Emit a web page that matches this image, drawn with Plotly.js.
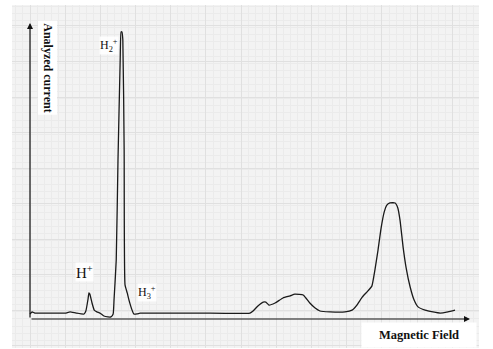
<!DOCTYPE html>
<html>
<head>
<meta charset="utf-8">
<script src="https://cdn.plot.ly/plotly-3.0.1.min.js"></script>
<style>html,body{margin:0;padding:0;background:#fff;}#chart{width:493px;height:349px;}</style>
</head>
<body>
<div id="chart"></div>
<script>
// Magnetic field (arbitrary units, 0 = origin, 100 = axis arrow)
const field = [0,0.5,1.1,4.5,8.0,9.1,10.5,12.3,12.7,13.2,13.4,13.6,14.1,14.6,15.2,15.9,16.8,17.7,18.4,18.9,19.1,19.6,20.0,20.5,20.7,20.9,21.1,21.4,21.6,22.1,22.5,23.2,23.6,24.3,25.0,25.7,38.6,50.0,50.7,51.8,53.0,53.6,54.3,55.7,57.5,59.1,60.2,62.1,62.7,63.6,64.8,65.9,68.2,71.6,73.2,74.3,75.5,76.8,77.7,78.4,79.1,79.8,80.5,81.1,81.8,83.0,83.6,84.1,84.8,85.5,86.4,87.3,88.2,89.8,91.6,93.2,95.0,96.6];
// Analyzed current (arbitrary units, 0 = axis, 100 = axis arrow)
const current = [1.7,2.4,2.0,2.0,2.0,2.4,2.0,1.7,2.7,6.8,8.8,8.4,5.4,3.0,2.4,2.0,1.0,0.7,0.7,1.7,6.4,19.9,53.7,87.5,97.0,97.0,94.3,57.1,11.5,8.8,6.4,3.0,1.7,1.7,2.0,2.0,2.0,2.0,2.7,4.4,5.7,5.7,4.7,5.4,7.1,7.8,8.4,8.1,7.1,5.4,3.7,2.7,2.4,2.4,3.0,4.7,7.4,9.5,11.1,16.6,23.3,30.7,36.1,38.5,39.2,39.2,37.5,33.4,24.3,17.2,10.8,6.4,4.1,3.0,2.4,2.0,2.4,3.0];

const peakLabels = [
  {text: 'H<sub>2</sub><sup>+</sup>', x: 18.0, y: 92.3, size: 12},
  {text: 'H<sup>+</sup>', x: 12.4, y: 16.0, size: 15},
  {text: 'H<sub>3</sub><sup>+</sup>', x: 26.6, y: 8.8, size: 12}
];
const xAxisLabel = 'Magnetic Field';
const yAxisLabel = 'Analyzed current';

const serif = 'Liberation Serif, DejaVu Serif, serif';

const annotations = peakLabels.map(p => ({
  x: p.x, y: p.y, xref: 'x', yref: 'y', text: p.text, showarrow: false,
  font: {family: serif, size: p.size, color: '#111'}, bgcolor: 'rgba(255,255,255,0.85)', borderpad: 0
}));
// axis arrows
annotations.push({x: 100, y: 0, ax: 0, ay: 0, xref: 'x', yref: 'y', axref: 'x', ayref: 'y',
  text: '', showarrow: true, arrowhead: 2, arrowsize: 1, arrowwidth: 1.2, arrowcolor: '#111'});
annotations.push({x: 0, y: 100, ax: 0, ay: 0, xref: 'x', yref: 'y', axref: 'x', ayref: 'y',
  text: '', showarrow: true, arrowhead: 2, arrowsize: 1, arrowwidth: 1.2, arrowcolor: '#111'});
// axis labels
annotations.push({x: 88.5, y: -5.4, xref: 'x', yref: 'y', text: '<b>' + xAxisLabel + '</b>', showarrow: false,
  font: {family: serif, size: 12.5, color: '#111'}, bgcolor: '#ffffff', borderpad: 5, width: 104});
annotations.push({x: 3.9, y: 85.0, xref: 'x', yref: 'y', text: '<b>' + yAxisLabel + '</b>', showarrow: false,
  textangle: 90, font: {family: serif, size: 12, color: '#111'}, bgcolor: '#ffffff', borderpad: 2});

const trace = {
  x: field, y: current, type: 'scatter', mode: 'lines',
  line: {color: '#1a1a1a', width: 1.3, shape: 'spline', smoothing: 0.4},
  hoverinfo: 'skip'
};

const layout = {
  width: 493, height: 349,
  margin: {l: 12, r: 14, t: 5, b: 1, pad: 0},
  paper_bgcolor: '#ffffff',
  plot_bgcolor: '#f3f3f3',
  showlegend: false,
  xaxis: {range: [-4.09, 102.05], showticklabels: false, ticks: '', zeroline: false, showline: false,
    tick0: 0, dtick: 8, showgrid: true, gridcolor: '#e0e0e0', gridwidth: 1,
    minor: {dtick: 1.6, showgrid: true, gridcolor: '#ebebeb', gridwidth: 1}, fixedrange: true},
  yaxis: {range: [-9.8, 106.08], showticklabels: false, ticks: '', zeroline: false, showline: false,
    tick0: 3, dtick: 12, showgrid: true, gridcolor: '#e0e0e0', gridwidth: 1,
    minor: {dtick: 2.4, showgrid: true, gridcolor: '#ebebeb', gridwidth: 1}, fixedrange: true},
  annotations: annotations
};

Plotly.newPlot('chart', [trace], layout, {staticPlot: true, displayModeBar: false});
</script>
</body>
</html>
